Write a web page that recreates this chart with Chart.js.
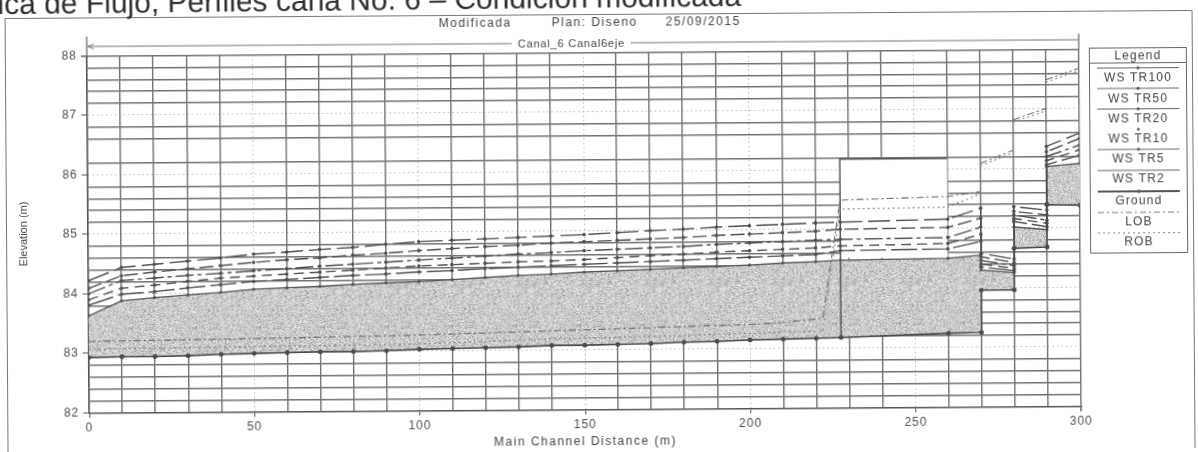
<!DOCTYPE html>
<html lang="es">
<head>
<meta charset="UTF-8">
<title>Perfil de flujo - Canal 6</title>
<script src="https://cdn.jsdelivr.net/npm/chart.js"></script>
<style>
    html, body { margin: 0; padding: 0; background: #fff; overflow: hidden; }
    body { width: 1198px; height: 452px; font-family: "Liberation Sans", Arial, sans-serif; color: #444; }
    #sheet { position: relative; width: 1198px; height: 452px; transform: rotate(-0.39deg); transform-origin: 599px 226px; }
    #chart, #lines { position: absolute; left: 0; top: 0; }
    .txt { position: absolute; white-space: nowrap; line-height: 14px; }
    .leg { position: absolute; left: 1090px; width: 98px; text-align: center; font-size: 12px; letter-spacing: 1.2px; line-height: 14px; color: #444; }
</style>
</head>
<body>
<div id="sheet">
    <canvas id="chart" width="1198" height="452"></canvas>
    <svg id="lines" width="1198" height="452">
        <!-- page frame -->
        <polyline points="6.5,460 6.5,14.5 1193.5,14.5 1193.5,460" fill="none" stroke="#777" stroke-width="1"/>
        <!-- reach arrow -->
        <line x1="88" y1="33" x2="88" y2="53" stroke="#666" stroke-width="1.2"/>
        <line x1="1080" y1="37" x2="1080" y2="53" stroke="#666" stroke-width="1.2"/>
        <line x1="89" y1="43" x2="1080" y2="43" stroke="#777" stroke-width="1"/>
        <polyline points="95,40.5 89,43 95,45.5" fill="none" stroke="#777" stroke-width="1"/>
        <!-- legend box -->
        <rect x="1090.5" y="51.5" width="97" height="205" fill="#fff" stroke="#666" stroke-width="1"/>
        <line x1="1091" y1="66.5" x2="1187" y2="66.5" stroke="#666" stroke-width="1"/>
        <g stroke="#666" stroke-width="1">
            <line x1="1098" y1="71.5" x2="1180" y2="71.5"/>
            <line x1="1098" y1="92" x2="1180" y2="92"/>
            <line x1="1098" y1="112.5" x2="1180" y2="112.5"/>
            <line x1="1098" y1="153" x2="1180" y2="153"/>
            <line x1="1098" y1="174" x2="1180" y2="174"/>
            <line x1="1098" y1="195" x2="1180" y2="195" stroke-width="1.8" stroke="#555"/>
            <line x1="1098" y1="216" x2="1180" y2="216" stroke-dasharray="6,3,2,3" stroke="#777"/>
            <line x1="1098" y1="236.5" x2="1180" y2="236.5" stroke-dasharray="2,3" stroke="#888"/>
        </g>
        <g fill="#555">
            <circle cx="1139" cy="71.5" r="1.5"/>
            <circle cx="1139" cy="92" r="1.6"/>
            <circle cx="1139" cy="112.5" r="1.5"/>
            <circle cx="1139" cy="133" r="1.4"/>
            <circle cx="1139" cy="153" r="1.4"/>
            <circle cx="1139" cy="195" r="1.8"/>
        </g>
    </svg>

    <div class="txt" style="left:-1px; top:-15px; font-size:30px; line-height:30px; color:#2e2e2e; transform:rotate(-0.24deg); transform-origin:0 25px;">ica de Flujo, Perfiles caña No. 6 – Condición modificada</div>
    <div class="txt" style="left:440px; top:16px; font-size:12px; line-height:12px; letter-spacing:1.5px;">Modificada</div>
    <div class="txt" style="left:553px; top:16px; font-size:12px; line-height:12px; letter-spacing:1.5px;">Plan: Diseno</div>
    <div class="txt" style="left:667px; top:16px; font-size:12px; line-height:12px; letter-spacing:1.5px;">25/09/2015</div>
    <div class="txt" style="left:513px; top:36px; font-size:11px; letter-spacing:0.8px; background:#fff; padding:0 6px;">Canal_6 Canal6eje</div>
    <div class="txt" style="left:-37px; top:223px; width:120px; text-align:center; font-size:11px; transform:rotate(-90deg);">Elevation (m)</div>
    <div class="txt" style="left:434px; top:434px; width:300px; text-align:center; font-size:12px; letter-spacing:1.5px;">Main Channel Distance (m)</div>

    <div class="leg" style="top:51.5px;">Legend</div>
    <div class="leg" style="top:74px;">WS TR100</div>
    <div class="leg" style="top:94.5px;">WS TR50</div>
    <div class="leg" style="top:115px;">WS TR20</div>
    <div class="leg" style="top:135px;">WS TR10</div>
    <div class="leg" style="top:155px;">WS TR5</div>
    <div class="leg" style="top:175px;">WS TR2</div>
    <div class="leg" style="top:197px;">Ground</div>
    <div class="leg" style="top:218px;">LOB</div>
    <div class="leg" style="top:238px;">ROB</div>
</div>

<script>
    // cross-section stations (m); repeated stations carry a step in the profile
    const stations = [0, 10, 20, 30, 40, 50, 60, 70, 80, 90, 100, 110, 120, 130, 140, 150, 160, 170, 180, 190, 200, 210, 220, 227.5, 260, 270, 270, 280, 280, 290, 290, 300];

    const groundElev = [82.93, 82.94, 82.94, 82.95, 82.97, 82.98, 82.99, 83.00, 83.00, 83.01, 83.03, 83.04, 83.05, 83.06, 83.08, 83.08, 83.09, 83.10, 83.12, 83.13, 83.15, 83.16, 83.17, 83.18, 83.24, 83.25, 83.96, 83.96, 84.66, 84.68, 85.39, 85.38];

    const wsTR100 = [84.22, 84.44, 84.49, 84.54, 84.59, 84.65, 84.68, 84.72, 84.75, 84.80, 84.84, 84.86, 84.88, 84.90, 84.92, 84.94, 84.97, 85.00, 85.02, 85.05, 85.07, 85.09, 85.11, 85.12, 85.16, 85.34, 84.58, 84.48, 85.36, 85.30, 86.37, 86.59];
    const wsTR50 = [84.09, 84.30, 84.36, 84.41, 84.46, 84.51, 84.55, 84.58, 84.62, 84.65, 84.69, 84.72, 84.75, 84.77, 84.80, 84.82, 84.84, 84.86, 84.88, 84.91, 84.93, 84.95, 84.97, 85.00, 85.02, 85.17, 84.52, 84.42, 85.28, 85.22, 86.28, 86.50];
    const wsTR20 = [84.00, 84.22, 84.26, 84.30, 84.33, 84.37, 84.40, 84.44, 84.47, 84.50, 84.53, 84.56, 84.59, 84.62, 84.64, 84.67, 84.69, 84.71, 84.73, 84.76, 84.78, 84.80, 84.82, 84.83, 84.85, 85.02, 84.46, 84.37, 85.22, 85.13, 86.20, 86.39];
    const wsTR10 = [83.90, 84.09, 84.14, 84.20, 84.25, 84.28, 84.31, 84.34, 84.37, 84.40, 84.43, 84.45, 84.47, 84.49, 84.50, 84.52, 84.55, 84.58, 84.60, 84.63, 84.65, 84.67, 84.69, 84.72, 84.75, 84.90, 84.40, 84.32, 85.16, 85.08, 86.13, 86.31];
    const wsTR5 = [83.81, 83.99, 84.03, 84.09, 84.14, 84.19, 84.22, 84.25, 84.28, 84.30, 84.33, 84.35, 84.38, 84.40, 84.42, 84.44, 84.46, 84.48, 84.50, 84.52, 84.54, 84.56, 84.58, 84.64, 84.66, 84.78, 84.35, 84.28, 85.11, 85.02, 86.06, 86.22];
    const wsTR2 = [83.63, 83.88, 83.93, 83.97, 84.01, 84.06, 84.08, 84.10, 84.13, 84.15, 84.17, 84.20, 84.23, 84.26, 84.28, 84.31, 84.33, 84.35, 84.37, 84.39, 84.41, 84.44, 84.46, 84.48, 84.50, 84.55, 84.30, 84.25, 85.02, 84.97, 86.03, 86.08];

    // bank stations (null = break between reaches)
    const lobStations = [0, 50, 100, 150, 200, 210, 222, 227.5, 260, 270, 270, 270, 280, 280, 280, 290, 290, 290, 300];
    const lobElev = [83.20, 83.23, 83.27, 83.34, 83.41, 83.44, 83.51, 85.49, 85.54, 85.62, null, 86.09, 86.31, null, 86.82, 87.01, null, 87.49, 87.68];
    const robStations = [0, 20, 60, 100, 140, 160, 200, 210, 222, 227.5, 260, 270, 270, 270, 280, 280, 280, 290, 290, 290, 300];
    const robElev = [83.07, 83.08, 83.10, 83.12, 83.19, 83.21, 83.26, 83.28, 83.29, 85.34, 85.36, 85.58, null, 86.05, 86.27, null, 86.78, 86.97, null, 87.45, 87.64];

    // culvert / deck outline
    const deckStations = [227.5, 227.5, 260];
    const deckElev = [83.18, 86.18, 86.18];
    const deckBottom = 84.52;

    const xLabels = [0, 50, 100, 150, 200, 250, 300];
    const yLabels = [82, 83, 84, 85, 86, 87, 88];
    const skippedGrid = [86.4];

    const pts = (xs, ys) => xs.map((x, i) => ({ x: x, y: ys[i] }));
    const isInt = v => Math.abs(v - Math.round(v)) < 1e-6;

    // grainy grey like the printed water fill (fixed hash, same every run)
    function stipple() {
        const n = 64;
        const c = document.createElement("canvas");
        c.width = c.height = n;
        const g = c.getContext("2d");
        g.fillStyle = "#cecece";
        g.fillRect(0, 0, n, n);
        for (let i = 0; i < n; i++) {
            for (let j = 0; j < n; j++) {
                let h = Math.imul(i, 374761393) + Math.imul(j, 668265263);
                h = Math.imul(h ^ (h >>> 13), 1274126177);
                const r = ((h ^ (h >>> 16)) >>> 0) / 4294967296;
                if (r < 0.16) g.fillStyle = "#a4a4a4";
                else if (r < 0.34) g.fillStyle = "#bdbdbd";
                else if (r > 0.82) g.fillStyle = "#e8e8e8";
                else continue;
                g.fillRect(i, j, 1, 1);
            }
        }
        return g.createPattern(c, "repeat");
    }

    const wsLine = (label, values, dash, order) => ({
        label: label,
        data: pts(stations, values),
        borderColor: "#4f4f4f",
        borderWidth: 1.4,
        borderDash: dash,
        pointRadius: 1.8,
        pointBackgroundColor: "#4f4f4f",
        pointBorderWidth: 0,
        fill: false,
        order: order
    });

    Chart.defaults.font.family = '"Liberation Sans", Arial, sans-serif';

    const letterSpacing = {
        id: "letterSpacing",
        beforeDraw(chart) { if ("letterSpacing" in chart.ctx) chart.ctx.letterSpacing = "1px"; }
    };

    new Chart(document.getElementById("chart"), {
        type: "line",
        data: {
            datasets: [
                wsLine("WS TR100", wsTR100, [22, 6], 1),
                wsLine("WS TR50", wsTR50, [14, 5], 2),
                wsLine("WS TR20", wsTR20, [18, 4, 4, 4], 3),
                wsLine("WS TR10", wsTR10, [10, 6], 4),
                wsLine("WS TR5", wsTR5, [26, 5], 5),
                {
                    label: "WS TR2",
                    data: pts(stations, wsTR2),
                    borderColor: "#555",
                    borderWidth: 1.3,
                    pointRadius: 1.6,
                    pointBackgroundColor: "#555",
                    pointBorderWidth: 0,
                    backgroundColor: stipple(),
                    fill: 6,
                    order: 9
                },
                {
                    label: "Ground",
                    data: pts(stations, groundElev),
                    borderColor: "#4a4a4a",
                    borderWidth: 1.6,
                    pointRadius: 2.4,
                    pointBackgroundColor: "#4a4a4a",
                    pointBorderWidth: 0,
                    fill: false,
                    order: 0
                },
                {
                    label: "LOB",
                    data: pts(lobStations, lobElev),
                    borderColor: "#6e6e6e",
                    borderWidth: 1.1,
                    borderDash: [7, 3, 2, 3],
                    pointRadius: 0,
                    spanGaps: false,
                    fill: false,
                    order: 6
                },
                {
                    label: "ROB",
                    data: pts(robStations, robElev),
                    borderColor: "#858585",
                    borderWidth: 1.1,
                    borderDash: [2, 3],
                    pointRadius: 0,
                    spanGaps: false,
                    fill: false,
                    order: 7
                },
                {
                    label: "Deck",
                    data: pts(deckStations, deckElev),
                    borderColor: "#555",
                    borderWidth: 1.5,
                    pointRadius: 0,
                    backgroundColor: "#ffffff",
                    fill: { value: deckBottom },
                    order: 8
                }
            ]
        },
        options: {
            responsive: false,
            animation: false,
            devicePixelRatio: 1,
            layout: { padding: { top: 52.5, right: 118, left: 0, bottom: 0 } },
            plugins: { legend: { display: false }, tooltip: { enabled: false } },
            scales: {
                x: {
                    type: "linear",
                    min: 0,
                    max: 300,
                    afterFit: s => { s.height = 42.6; },
                    ticks: {
                        stepSize: 10,
                        autoSkip: false,
                        maxRotation: 0,
                        padding: 3,
                        color: "#4d4d4d",
                        font: { size: 12 },
                        callback: v => xLabels.includes(v) ? String(v) : ""
                    },
                    grid: {
                        color: c => (c.tick && c.tick.value % 50 === 0 && c.tick.value !== 300) ? "rgba(120,120,120,0.5)" : "#727272",
                        lineWidth: c => (c.tick && c.tick.value % 50 === 0 && c.tick.value !== 300) ? 1 : 1.4,
                        tickLength: 5,
                        tickColor: c => (c.tick && c.tick.value % 50 === 0) ? "#555" : "rgba(0,0,0,0)"
                    },
                    border: {
                        display: true,
                        color: "#555",
                        width: 1.6,
                        dash: c => (c.tick && c.tick.value % 50 === 0 && c.tick.value !== 300) ? [1.5, 3] : []
                    }
                },
                y: {
                    type: "linear",
                    min: 82,
                    max: 88,
                    afterFit: s => { s.width = 88; },
                    ticks: {
                        stepSize: 0.2,
                        autoSkip: false,
                        padding: 4,
                        color: "#4d4d4d",
                        font: { size: 12 },
                        callback: v => (isInt(v) && yLabels.includes(Math.round(v))) ? String(Math.round(v)) : ""
                    },
                    grid: {
                        color: c => {
                            if (!c.tick) return "#727272";
                            const v = c.tick.value;
                            if (skippedGrid.some(m => Math.abs(m - v) < 1e-6)) return "rgba(0,0,0,0)";
                            if (isInt(v) && Math.round(v) !== 88) return "rgba(120,120,120,0.5)";
                            return "#727272";
                        },
                        lineWidth: c => (c.tick && isInt(c.tick.value) && Math.round(c.tick.value) !== 88) ? 1 : 1.4,
                        tickLength: 6,
                        tickColor: c => (c.tick && isInt(c.tick.value)) ? "#555" : "rgba(0,0,0,0)"
                    },
                    border: {
                        display: true,
                        color: "#555",
                        width: 1.6,
                        dash: c => (c.tick && isInt(c.tick.value) && Math.round(c.tick.value) !== 88) ? [1.5, 3] : []
                    }
                }
            }
        },
        plugins: [letterSpacing]
    });
</script>
</body>
</html>
